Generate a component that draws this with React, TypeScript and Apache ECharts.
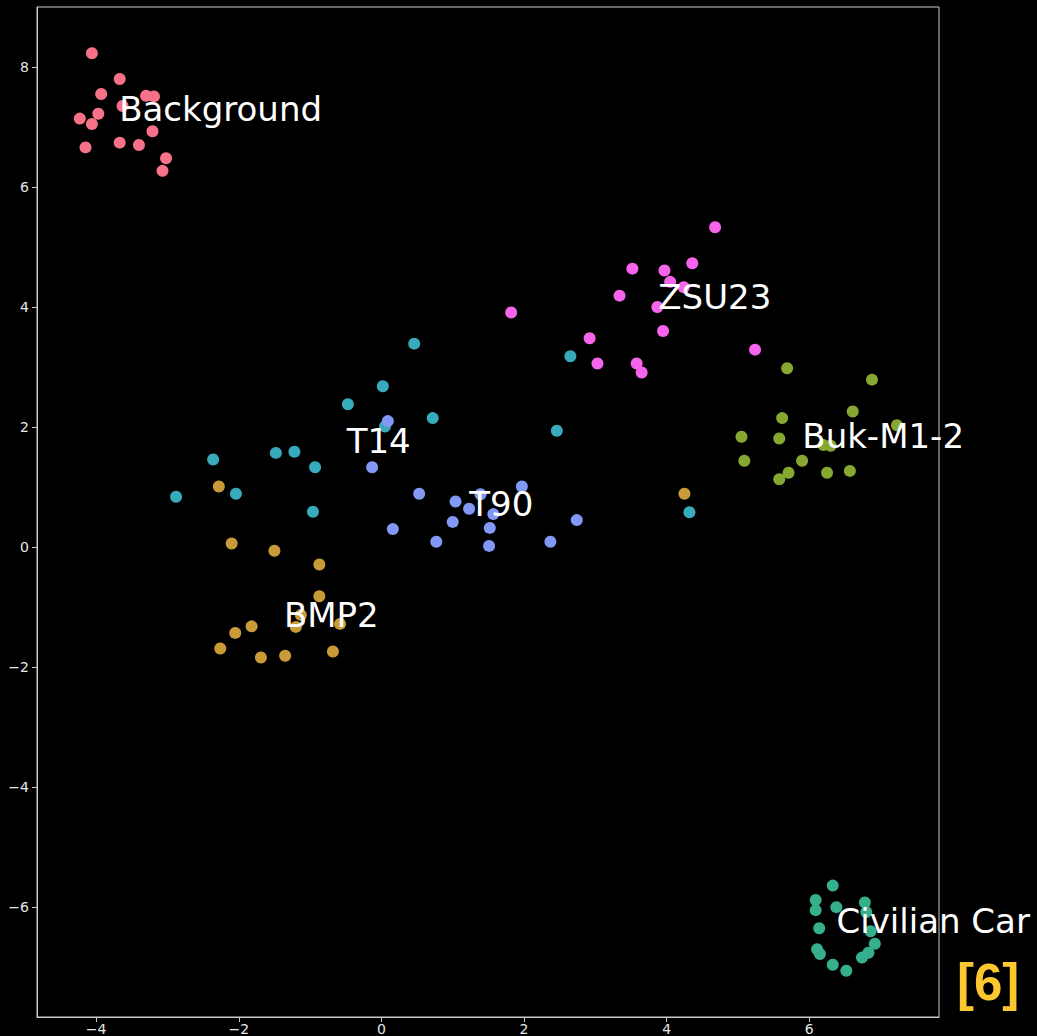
import React, { useEffect, useRef } from "react";
import * as echarts from "echarts";

const categories = ["Background", "BMP2", "Buk-M1-2", "Civilian Car", "T14", "T90", "ZSU23"];
const colors = ["#f77189", "#c99a38", "#86a830", "#35af8c", "#37abbb", "#8198f4", "#f564ea"];

const background = [
  [-4.06, 8.23], [-3.67, 7.8], [-3.93, 7.55], [-3.3, 7.52], [-3.19, 7.51],
  [-3.63, 7.35], [-3.97, 7.22], [-4.23, 7.14], [-4.06, 7.05], [-3.21, 6.93],
  [-3.67, 6.74], [-3.4, 6.7], [-4.15, 6.66], [-3.02, 6.48], [-3.07, 6.27],
];
const bmp2 = [
  [-2.28, 1.01], [-2.1, 0.06], [-1.5, -0.06], [-0.87, -0.29], [-0.87, -0.82],
  [-1.13, -1.13], [-1.2, -1.33], [-0.58, -1.28], [-1.82, -1.32], [-2.05, -1.43],
  [-2.26, -1.69], [-1.69, -1.84], [-1.35, -1.81], [-0.68, -1.74], [4.25, 0.89],
];
const bukM12 = [
  [5.69, 2.98], [6.88, 2.79], [6.61, 2.26], [5.62, 2.15], [7.23, 2.03],
  [5.05, 1.84], [5.58, 1.81], [6.2, 1.7], [6.3, 1.69], [5.09, 1.44],
  [5.9, 1.44], [5.71, 1.24], [6.25, 1.24], [6.57, 1.27], [5.58, 1.13],
];
const civilianCar = [
  [6.33, -5.64], [6.09, -5.88], [6.09, -6.05], [6.38, -6.0], [6.78, -5.92],
  [6.8, -6.08], [6.14, -6.35], [6.86, -6.4], [6.92, -6.61], [6.11, -6.7],
  [6.15, -6.78], [6.83, -6.76], [6.74, -6.84], [6.33, -6.96], [6.52, -7.06],
];
const t14 = [
  [0.46, 3.39], [0.02, 2.68], [-0.47, 2.38], [0.72, 2.15], [0.05, 2.01],
  [-2.36, 1.46], [-1.48, 1.57], [-1.22, 1.59], [-0.93, 1.33], [-2.88, 0.84],
  [-2.04, 0.89], [-0.96, 0.59], [2.46, 1.94], [2.65, 3.18], [4.32, 0.58],
];
const t90 = [
  [0.09, 2.1], [-0.13, 1.33], [0.53, 0.89], [0.16, 0.3], [1.04, 0.76],
  [1.23, 0.64], [1.97, 1.01], [1.57, 0.55], [1.0, 0.42], [1.52, 0.32],
  [0.77, 0.09], [1.51, 0.02], [2.37, 0.09], [2.74, 0.45], [1.39, 0.88],
];
const zsu23 = [
  [4.68, 5.33], [3.52, 4.64], [3.97, 4.61], [4.36, 4.73], [4.05, 4.42],
  [4.24, 4.33], [3.34, 4.19], [3.87, 4.0], [1.82, 3.91], [3.95, 3.6],
  [2.92, 3.48], [5.24, 3.29], [3.03, 3.06], [3.58, 3.06], [3.65, 2.91],
];
const seriesValues = [background, bmp2, bukM12, civilianCar, t14, t90, zsu23];

// label anchor (left, baseline) for each cluster name
const labelAnchors = [
  [-3.67, 7.13, "Background"],
  [-1.36, -1.3, "BMP2"],
  [5.91, 1.68, "Buk-M1-2"],
  [6.39, -6.41, "Civilian Car"],
  [-0.48, 1.59, "T14"],
  [1.24, 0.55, "T90"],
  [3.89, 4.0, "ZSU23"],
];

const xTicks = [-4, -2, 0, 2, 4, 6];
const yTicks = [-6, -4, -2, 0, 2, 4, 6, 8];
const xRange = [-4.83, 7.82];
const yRange = [-7.83, 9.0];

const fmt = (v: number) => String(v).replace("-", "\u2212");

export default function App() {
  const ref = useRef<HTMLDivElement>(null);
  useEffect(() => {
    if (!ref.current) return;
    const chart = echarts.init(ref.current, null, { renderer: "svg" });
    const axisCommon = {
      type: "value",
      axisLine: { show: true, onZero: false, lineStyle: { color: "#cccccc", width: 1 } },
      axisTick: { show: true, length: 5, inside: false, lineStyle: { color: "#cccccc", width: 1 } },
      splitLine: { show: false },
      axisLabel: {
        color: "#e6e6e6",
        fontSize: 14,
        fontFamily: "DejaVu Sans",
        margin: 8,
        formatter: (v: number) => fmt(v),
      },
    };
    const option: any = {
      animation: false,
      backgroundColor: "#000000",
      grid: {
        left: 37,
        right: 98,
        top: 7,
        bottom: 19,
        show: true,
        borderColor: "#cccccc",
        borderWidth: 1,
        outerBoundsMode: "none",
        containLabel: false,
      },
      xAxis: {
        ...axisCommon,
        min: xRange[0],
        max: xRange[1],
        axisTick: { ...axisCommon.axisTick, customValues: xTicks },
        axisLabel: { ...axisCommon.axisLabel, margin: 5, customValues: xTicks },
      },
      yAxis: {
        ...axisCommon,
        min: yRange[0],
        max: yRange[1],
        axisTick: { ...axisCommon.axisTick, customValues: yTicks },
        axisLabel: { ...axisCommon.axisLabel, customValues: yTicks },
      },
      series: [
        ...categories.map((name, i) => ({
          name,
          type: "scatter",
          data: seriesValues[i],
          symbolSize: 12,
          itemStyle: { color: colors[i], opacity: 1 },
          silent: true,
        })),
        {
          name: "labels",
          type: "scatter",
          data: labelAnchors,
          symbolSize: 1,
          itemStyle: { color: "rgba(0,0,0,0)" },
          silent: true,
          z: 10,
          label: {
            show: true,
            position: [0, 0],
            align: "left",
            verticalAlign: "bottom",
            offset: [0, 7],
            color: "#ffffff",
            opacity: 1,
            textBorderWidth: 0,
            fontSize: 34,
            fontFamily: "DejaVu Sans",
            formatter: (p: any) => p.data[2],
          },
        },
      ],
      graphic: [
        {
          type: "text",
          x: 957,
          y: 982,
          z: 100,
          style: {
            text: "[6]",
            fill: "#fdc82f",
            fontSize: 51,
            fontWeight: "bold",
            fontFamily: "Liberation Sans",
            align: "left",
            verticalAlign: "middle",
          },
        },
      ],
    };
    chart.setOption(option);
    return () => chart.dispose();
  }, []);
  return (
    <div
      ref={ref}
      style={{ position: "absolute", left: 0, top: 0, width: 1037, height: 1036, background: "#000" }}
    />
  );
}
